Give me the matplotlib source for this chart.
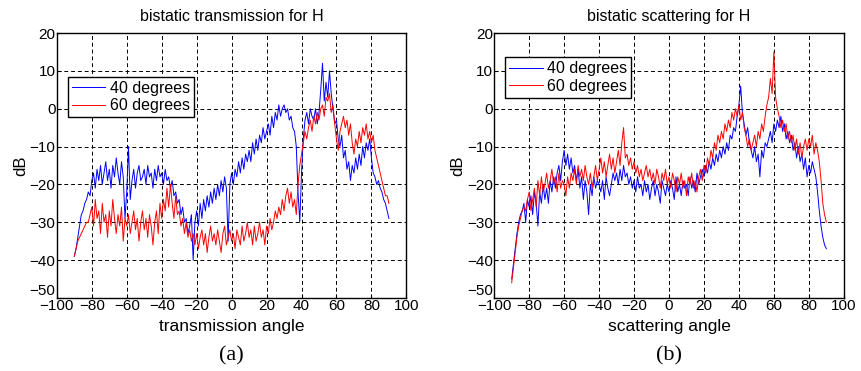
import numpy as np
import matplotlib

matplotlib.use("Agg")
import matplotlib.pyplot as plt

# angles in degrees, 1 degree step
angles = list(range(-90, 91))

# bistatic transmission, 40 degrees incidence (dB)
trans_40 = [
    -39, -37, -34, -31, -28, -27, -25, -24, -22, -23,
    -19, -17, -21, -16, -19, -15, -20, -17, -14, -19,
    -16, -21, -15, -18, -13, -17, -20, -14, -18, -29,
    -22, -10, -24, -19, -16, -21, -17, -15, -19, -18,
    -16, -20, -15, -18, -17, -21, -16, -19, -15, -18,
    -17, -20, -16, -19, -18, -21, -19, -23, -22, -25,
    -24, -28, -26, -30, -29, -33, -31, -28, -40, -30,
    -27, -31, -25, -29, -24, -27, -23, -26, -22, -25,
    -21, -24, -20, -23, -19, -22, -18, -21, -35, -20,
    -17, -20, -16, -18, -14, -17, -13, -16, -12, -14,
    -11, -14, -9, -12, -8, -11, -7, -9, -5, -8,
    -6, -4, -7, -2, -5, -1, -3, 1, -2, 0,
    1, -1, 0, -3, -2, -5, -6, -10, -22, -30,
    -17, -8, -3, -1, -4, 0, -2, -3, 0, -4,
    -1, 5, 12, 2, 7, 3, 10, 4, 0, -4,
    -3, -8, -10, -7, -13, -11, -16, -14, -19, -15,
    -17, -13, -16, -12, -15, -10, -13, -9, -11, -8,
    -13, -17, -18, -20, -19, -21, -22, -24, -25, -27,
    -29,
]

# bistatic transmission, 60 degrees incidence (dB)
trans_60 = [
    -39, -37, -35, -34, -33, -32, -31, -30, -30, -28,
    -26, -31, -24, -29, -27, -33, -25, -30, -28, -34,
    -27, -31, -24, -29, -33, -28, -31, -26, -35, -29,
    -31, -28, -33, -30, -27, -32, -29, -35, -30, -27,
    -32, -29, -34, -28, -31, -36, -30, -27, -33, -25,
    -29, -24, -27, -21, -26, -20, -25, -29, -23, -28,
    -27, -31, -29, -33, -30, -34, -32, -35, -33, -36,
    -33, -37, -34, -32, -36, -33, -38, -34, -31, -35,
    -33, -36, -32, -35, -38, -33, -31, -36, -34, -32,
    -35, -33, -37, -32, -34, -36, -31, -35, -33, -30,
    -34, -32, -36, -31, -35, -33, -30, -34, -32, -36,
    -31, -33, -29, -32, -30, -27, -29, -26, -28, -24,
    -27, -23, -21, -25, -22, -26, -24, -28, -20, -15,
    -12, -9, -6, -8, -5, -3, -6, -2, -4, -1,
    -3, 0, 1, -2, 3, 2, 4, -1, 1, -4,
    -8, -11, -6, -4, -2, -5, -3, -7, -4, -9,
    -12, -8, -10, -6, -9, -5, -7, -4, -8, -6,
    -9, -7, -11, -13, -15, -17, -19, -21, -23, -23,
    -25,
]

# bistatic scattering, 40 degrees incidence (dB)
scat_40 = [
    -45, -41, -37, -33, -30, -28, -27, -25, -30, -24,
    -26, -23, -28, -22, -25, -31, -22, -25, -20, -24,
    -21, -25, -19, -22, -18, -21, -17, -15, -19, -14,
    -11, -15, -12, -16, -13, -17, -15, -19, -16, -21,
    -18, -24, -19, -22, -28, -20, -23, -18, -21, -19,
    -20, -22, -19, -24, -18, -21, -23, -20, -17, -19,
    -17, -20, -16, -19, -15, -18, -17, -20, -18, -21,
    -19, -22, -18, -21, -20, -23, -19, -22, -20, -24,
    -21, -19, -23, -20, -22, -25, -19, -21, -23, -20,
    -22, -19, -21, -24, -18, -22, -20, -23, -19, -21,
    -20, -23, -18, -21, -19, -22, -17, -20, -18, -16,
    -18, -15, -17, -14, -16, -13, -15, -12, -14, -11,
    -13, -10, -12, -9, -11, -7, -8, -5, -6, -2,
    1, 6, -1, -4, -7, -5, -9, -11, -13, -10,
    -14, -12, -18, -11, -13, -9, -10, -8, -6, -9,
    -4, -6, -3, -5, -2, -6, -4, -8, -6, -9,
    -7, -11, -9, -13, -10, -14, -12, -16, -13, -18,
    -15, -17, -14, -16, -18, -22, -27, -31, -34, -36,
    -37,
]

# bistatic scattering, 60 degrees incidence (dB)
scat_60 = [
    -46, -42, -38, -34, -31, -29, -27, -26, -27, -24,
    -22, -27, -24, -21, -26, -19, -23, -18, -22, -20,
    -17, -21, -19, -16, -20, -18, -22, -17, -21, -19,
    -20, -23, -18, -21, -17, -19, -16, -20, -15, -18,
    -16, -19, -15, -18, -20, -17, -21, -18, -15, -19,
    -16, -13, -17, -14, -18, -15, -12, -16, -13, -17,
    -14, -11, -15, -9, -5, -13, -12, -15, -13, -16,
    -14, -17, -15, -18, -16, -19, -17, -15, -18, -16,
    -19, -17, -20, -16, -18, -21, -17, -19, -16, -20,
    -18, -21, -17, -19, -22, -18, -20, -17, -21, -19,
    -23, -18, -20, -17, -21, -19, -22, -18, -16, -19,
    -15, -17, -13, -15, -11, -13, -9, -11, -7, -9,
    -6, -8, -4, -6, -3, -5, -1, -3, 0, -2,
    1, -3, -1, -5, -7, -10, -8, -11, -9, -7,
    -10, -6, -8, -4, -6, -2, 1, 3, 8, 4,
    15, 3, 0, -2, -5, -3, -6, -4, -8, -6,
    -9, -7, -11, -8, -12, -9, -13, -10, -8, -11,
    -8, -10, -7, -12, -9, -11, -14, -19, -25, -28,
    -30,
]

panels = [
    ("bistatic transmission for H", "transmission angle", "(a)", trans_40, trans_60, 0.834),
    ("bistatic scattering for H", "scattering angle", "(b)", scat_40, scat_60, 0.909),
]

plt.rcParams["font.family"] = ["Liberation Sans", "DejaVu Sans"]

fig = plt.figure(figsize=(8.61, 3.71), dpi=100)
lefts = [0.066, 0.574]

for left, (title, xlabel, tag, s40, s60, leg_top) in zip(lefts, panels):
    ax = fig.add_axes([left, 0.197, 0.406, 0.714])
    ax.plot(angles, s40, color="#0000ff", lw=0.7, label="40 degrees")
    ax.plot(angles, s60, color="#ff0000", lw=0.7, label="60 degrees")
    ax.set_xlim(-100, 100)
    ax.set_ylim(-50, 20)
    ax.set_xticks(range(-100, 101, 20))
    ax.set_yticks(range(-50, 21, 10))
    ax.grid(True, color="black", linestyle=(0, (4, 3)), linewidth=0.7)
    ax.tick_params(direction="in", labelsize=11, length=3, pad=1)
    for sp in ax.spines.values():
        sp.set_linewidth(1.0)
    # lift the bottom y label a little so it sits above "-100", as in the original
    fig.canvas.draw()
    ax.get_yticklabels()[0].set_va("bottom")
    ax.set_title(title, fontsize=11.5, pad=9)
    ax.set_xlabel(xlabel, fontsize=12.5, labelpad=4)
    ax.set_ylabel("dB", fontsize=12, labelpad=1)
    ax.legend(loc="upper left", bbox_to_anchor=(0.031, leg_top), borderaxespad=0,
              fontsize=11.5, fancybox=False, edgecolor="black", framealpha=1,
              handlelength=2.1, handletextpad=0.3, borderpad=0.25, labelspacing=0.15)
    fig.text(left + 0.203, 0.042, tag, ha="center", va="center", fontsize=16,
             family=["Liberation Serif", "DejaVu Serif"])

fig.savefig("out.png", dpi=100)
